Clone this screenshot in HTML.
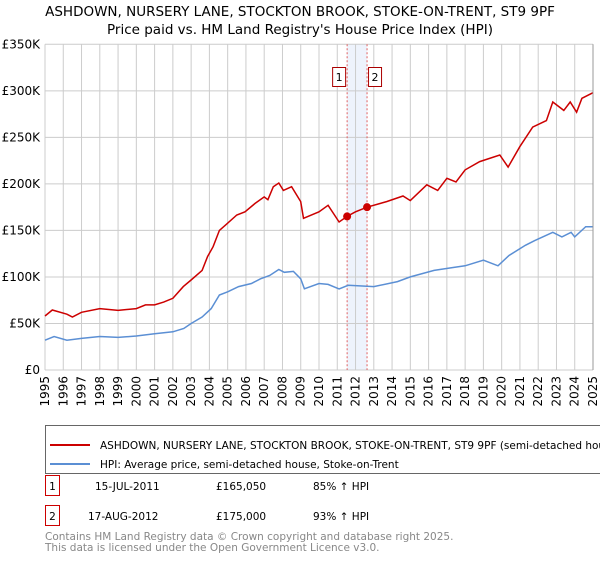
<!DOCTYPE html>
<html><head><meta charset="utf-8"><style>
body{margin:0;background:#fff;font-family:"Liberation Sans","DejaVu Sans",sans-serif;}
svg text{font-family:"DejaVu Sans","Liberation Sans",sans-serif;}
</style></head><body>
<svg id="c" width="600" height="560" viewBox="0 0 600 560">
<text x="300" y="16" text-anchor="middle" font-size="13.5">ASHDOWN, NURSERY LANE, STOCKTON BROOK, STOKE-ON-TRENT, ST9 9PF</text>
<text x="300" y="34" text-anchor="middle" font-size="13.5">Price paid vs. HM Land Registry's House Price Index (HPI)</text>
<g id="grid"></g>
<g id="marks"></g>
<g id="axes"></g>
<g>
<rect x="45.5" y="425.5" width="560" height="48" fill="#fff" stroke="#666"/>
<line x1="50" y1="445" x2="90" y2="445" stroke="#cc0000" stroke-width="2"/>
<text x="100" y="449" font-size="10.5">ASHDOWN, NURSERY LANE, STOCKTON BROOK, STOKE-ON-TRENT, ST9 9PF (semi-detached house)</text>
<line x1="50" y1="464" x2="90" y2="464" stroke="#5b8fd4" stroke-width="2"/>
<text x="100" y="468" font-size="10.5">HPI: Average price, semi-detached house, Stoke-on-Trent</text>
</g>
<g>
<rect x="45.5" y="475.5" width="14" height="20" fill="#fff" stroke="#cc0000"/>
<text x="52.5" y="490" font-size="10.5" text-anchor="middle">1</text>
<text x="95" y="490" font-size="10.5">15-JUL-2011</text>
<text x="216" y="490" font-size="10.5">£165,050</text>
<text x="313" y="490" font-size="10.5">85% ↑ HPI</text>
</g>
<g>
<rect x="45.5" y="505.5" width="14" height="20" fill="#fff" stroke="#cc0000"/>
<text x="52.5" y="520" font-size="10.5" text-anchor="middle">2</text>
<text x="88" y="520" font-size="10.5">17-AUG-2012</text>
<text x="216" y="520" font-size="10.5">£175,000</text>
<text x="313" y="520" font-size="10.5">93% ↑ HPI</text>
</g>
<text x="45" y="540" font-size="10.5" fill="#888">Contains HM Land Registry data © Crown copyright and database right 2025.</text>
<text x="45" y="551" font-size="10.5" fill="#888">This data is licensed under the Open Government Licence v3.0.</text>
</svg>
<script>
const yTicks=[0,50,100,150,200,250,300,350];
const yTickLabels=["£0","£50K","£100K","£150K","£200K","£250K","£300K","£350K"];
const xYears=[1995,1996,1997,1998,1999,2000,2001,2002,2003,2004,2005,2006,2007,2008,2009,2010,2011,2012,2013,2014,2015,2016,2017,2018,2019,2020,2021,2022,2023,2024,2025];
const hpiT=[1995,1995.5,1996.2,1997,1998,1999,2000,2001,2002,2002.6,2003,2003.6,2004.1,2004.55,2005,2005.6,2006.3,2006.8,2007.3,2007.8,2008.1,2008.6,2009,2009.2,2010,2010.5,2011.1,2011.6,2013,2014.3,2015,2016.3,2017.3,2018,2019,2019.8,2020.4,2021.3,2021.8,2022.8,2023.3,2023.8,2024,2024.6,2025];
const hpiV=[32,36,32,34,36,35,36.5,39,41,44.6,50,57,66,80.6,84,89.6,93,98,101.5,108,105,106,98,87.3,93,92,87,91,89.6,95,100,107,110,112,118,112,123,134,139,148,143,148,143,154,154];
const propT=[1995,1995.4,1996.2,1996.5,1997,1998,1999,2000,2000.5,2001,2001.5,2002,2002.57,2003,2003.6,2003.9,2004.2,2004.55,2004.9,2005.5,2005.95,2006.5,2007,2007.2,2007.5,2007.8,2008.05,2008.5,2009,2009.15,2010,2010.5,2011.1,2011.54,2012,2012.63,2013.7,2014.6,2015,2015.9,2016.5,2017,2017.5,2018,2018.8,2019.9,2020.35,2020.99,2021.7,2022.45,2022.8,2023.4,2023.75,2024.1,2024.39,2025];
const propV=[58,64.5,60,57,62,66,64,66,70,70,73,77,89.6,96.7,107,122,132.5,150,156,166.6,170,179,186,183,197,201,193,197,181,163,170,177,159,165.05,170,175,181,187,182,199,193,206,202,215,224,231,218,240,261,268,288,279,288,277,292,298];
const saleT=[2011.54,2012.63];
const saleV=[165.05,175];
const saleLabels=["1","2"];
const X0=45,X1=593,Y0=370,Y1=44.3;
const xs=t=>X0+(t-1995)/30*(X1-X0);
const ys=v=>Y0-v/350*(Y0-Y1);
const NS="http://www.w3.org/2000/svg";
function mk(parent,tag,attrs){const e=document.createElementNS(NS,tag);for(const k in attrs)e.setAttribute(k,attrs[k]);document.getElementById(parent).appendChild(e);return e;}
let sh=mk('grid','rect',{x:xs(saleT[0]),y:Y1,width:xs(saleT[1])-xs(saleT[0]),height:Y0-Y1,fill:'#eef3fc'});


xYears.forEach(y=>{const l=mk('grid','line',{x1:xs(y),x2:xs(y),y1:Y1,y2:Y0,stroke:'#ccc','stroke-width':1});

});
yTicks.forEach(v=>{const l=mk('grid','line',{x1:X0,x2:X1,y1:ys(v),y2:ys(v),stroke:'#ccc','stroke-width':1});

});
saleT.forEach((t,i)=>{const l=mk('grid','line',{x1:xs(t),x2:xs(t),y1:Y1,y2:Y0,stroke:'#e06060','stroke-width':1,'stroke-dasharray':'2,2'});

});
function path(T,V){return T.map((t,i)=>(i?'L':'M')+xs(t).toFixed(1)+','+ys(V[i]).toFixed(1)).join('');}
const hp=mk('marks','path',{d:path(hpiT,hpiV),fill:'none',stroke:'#5b8fd4','stroke-width':1.5});


const pp=mk('marks','path',{d:path(propT,propV),fill:'none',stroke:'#cc0000','stroke-width':1.5});


saleT.forEach((t,i)=>{const c=mk('marks','circle',{cx:xs(t),cy:ys(saleV[i]),r:4,fill:'#cc0000'});


const bx=xs(t)-(i==0?15:-1);
const r=mk('marks','rect',{x:bx+0.5,y:67.5,width:13,height:19,fill:'#fff',stroke:'#aa0000'});


const tx=mk('marks','text',{x:bx+7,y:81,'font-size':11,'text-anchor':'middle'});tx.textContent=saleLabels[i];

});
const fr=mk('axes','line',{x1:X1,x2:X1,y1:Y1,y2:Y0,stroke:'#999','stroke-width':1});


yTicks.forEach((v,i)=>{const t=mk('axes','text',{x:40,y:ys(v)+4,'font-size':12,'text-anchor':'end'});t.textContent=yTickLabels[i];

});
xYears.forEach(y=>{const t=mk('axes','text',{x:0,y:0,'font-size':12,'text-anchor':'end',transform:`translate(${xs(y)+4},376) rotate(-90)`});t.textContent=y;

});
</script>
</body></html>
